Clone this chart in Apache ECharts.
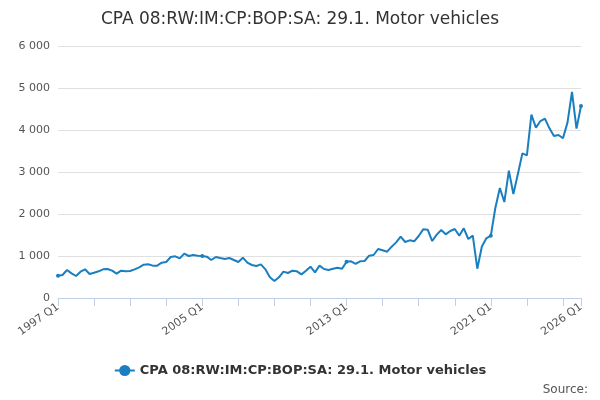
<!DOCTYPE html>
<html>
<head>
<meta charset="utf-8">
<script src="https://cdn.jsdelivr.net/npm/echarts@6/dist/echarts.min.js"></script>
</head>
<body style="margin:0">
<div id="main" style="width:600px;height:400px;"></div>
<script>
var seriesName = 'CPA 08:RW:IM:CP:BOP:SA: 29.1. Motor vehicles';
var quarters = [];
for (var y = 1997; y <= 2026; y++) {
  for (var q = 1; q <= 4; q++) {
    if (y === 2026 && q > 1) break;
    quarters.push(y + ' Q' + q);
  }
}
var values = [
  531,548,667,587,524,627,683,571,603,635,683,690,651,579,651,635,643,683,730,794,
  802,770,770,841,857,976,992,944,1056,1000,1024,1008,1000,984,905,976,952,929,952,905,
  857,960,841,786,762,802,683,492,405,492,627,595,651,635,563,651,746,611,770,690,
  667,698,722,698,865,873,810,873,881,1008,1024,1167,1135,1103,1222,1325,1460,1333,1373,1349,
  1476,1635,1627,1357,1508,1619,1516,1595,1643,1484,1659,1405,1484,698,1222,1421,1484,2143,2619,2286,
  3032,2476,2952,3444,3397,4365,4056,4214,4270,4040,3857,3881,3802,4175,4905,4032,4571
];
var last = quarters.length - 1;
var chart = echarts.init(document.getElementById('main'));
chart.setOption({
  animation: false,
  title: {
    text: seriesName, left: 'center', top: 6,
    textStyle: { fontFamily: 'DejaVu Sans', fontSize: 17, fontWeight: 'normal', color: '#333' }
  },
  legend: {
    bottom: 18, left: 'center', data: [seriesName], itemWidth: 20,
    textStyle: { fontFamily: 'DejaVu Sans', fontSize: 13, fontWeight: 'bold', color: '#333' }
  },
  graphic: [{
    type: 'text', right: 12, bottom: 4,
    style: { text: 'Source:', fontFamily: 'DejaVu Sans', fontSize: 12, fill: '#555' }
  }],
  grid: { left: 58, right: 19, top: 46, bottom: 102 },
  xAxis: {
    type: 'category', data: quarters, boundaryGap: false,
    axisLine: { lineStyle: { color: '#c0cfe6' } },
    axisTick: { length: 8, lineStyle: { color: '#c0cfe6' },
      interval: function (i) { return i % 8 === 0 || i === last; } },
    axisLabel: {
      rotate: 35, color: '#555', fontFamily: 'DejaVu Sans', fontSize: 11,
      interval: function (i) { return i % 32 === 0 || i === last; }
    }
  },
  yAxis: {
    type: 'value', min: 0, max: 6000, interval: 1000,
    axisLine: { show: false }, axisTick: { show: false },
    splitLine: { lineStyle: { color: '#e0e0e0' } },
    axisLabel: {
      color: '#555', fontFamily: 'DejaVu Sans', fontSize: 11,
      formatter: function (v) { return String(v).replace(/\B(?=(\d{3})+(?!\d))/g, ' '); }
    }
  },
  series: [{
    name: seriesName, type: 'line', data: values,
    symbol: 'circle', symbolSize: 4,
    itemStyle: { color: '#1a7fc1' },
    lineStyle: { color: '#1a7fc1', width: 2 }
  }]
});
</script>
</body>
</html>
